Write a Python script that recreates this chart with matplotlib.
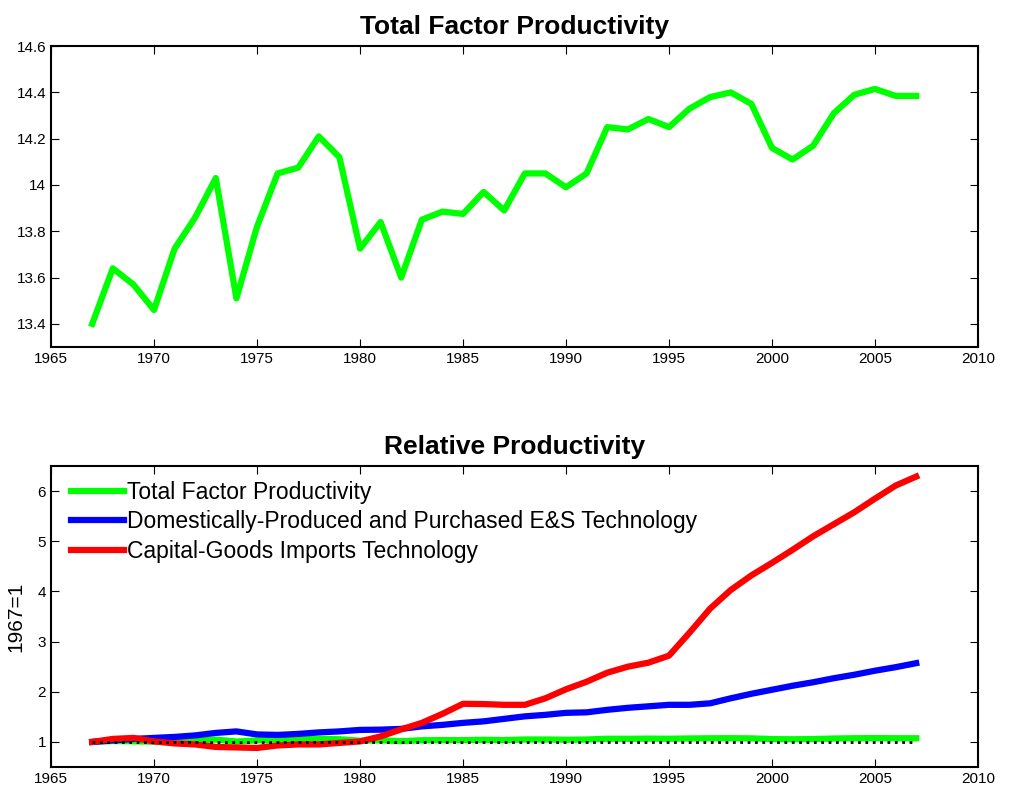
import numpy as np
import matplotlib
matplotlib.use('Agg')
import matplotlib.pyplot as plt
from matplotlib.ticker import FormatStrFormatter

plt.rcParams['font.family'] = ['Liberation Sans', 'DejaVu Sans']

years = np.arange(1967, 2008)

# TFP level (upper panel)
tfp = [13.40, 13.64, 13.57, 13.46, 13.725, 13.86, 14.03, 13.51, 13.82, 14.05,
       14.075, 14.21, 14.12, 13.725, 13.84, 13.60, 13.85, 13.885, 13.875, 13.97,
       13.89, 14.05, 14.05, 13.99, 14.05, 14.25, 14.24, 14.285, 14.25, 14.33,
       14.38, 14.40, 14.35, 14.16, 14.11, 14.17, 14.31, 14.39, 14.415, 14.385,
       14.385]

# relative series (lower panel), 1967=1
es_tech = [1.00, 1.03, 1.06, 1.08, 1.10, 1.13, 1.18, 1.21, 1.15, 1.14,
           1.16, 1.19, 1.21, 1.24, 1.245, 1.26, 1.31, 1.34, 1.38, 1.41,
           1.46, 1.51, 1.54, 1.58, 1.59, 1.64, 1.68, 1.71, 1.74, 1.74,
           1.77, 1.87, 1.96, 2.04, 2.12, 2.19, 2.27, 2.34, 2.42, 2.49,
           2.57]
imp_tech = [1.00, 1.06, 1.08, 1.01, 0.97, 0.95, 0.90, 0.89, 0.88, 0.93,
            0.95, 0.95, 0.98, 1.01, 1.11, 1.25, 1.38, 1.56, 1.76, 1.755,
            1.74, 1.74, 1.87, 2.05, 2.20, 2.38, 2.50, 2.58, 2.72, 3.18,
            3.66, 4.03, 4.32, 4.57, 4.83, 5.10, 5.34, 5.58, 5.85, 6.11,
            6.29]

tfp = np.array(tfp)
tfp_rel = tfp / tfp[0]
base = np.ones(len(years))

fig = plt.figure(figsize=(10.14, 7.95), dpi=100)
ax1 = fig.add_axes([0.0503, 0.5635, 0.9142, 0.3785])
ax2 = fig.add_axes([0.0503, 0.0352, 0.9142, 0.3786])

# верхний график
ax1.plot(years, tfp, color='#00ff00', linewidth=4.5)
ax1.set_xlim(1965, 2010)
ax1.set_ylim(13.3, 14.6)
ax1.set_yticks(np.arange(13.4, 14.61, 0.2))
ax1.yaxis.set_major_formatter(FormatStrFormatter('%g'))
ax1.set_title('Total Factor Productivity', fontsize=19, fontweight='bold', pad=9)

# нижний график
ax2.plot(years, tfp_rel, color='#00ff00', linewidth=4.5, label='Total Factor Productivity')
ax2.plot(years, es_tech, color='#0000ff', linewidth=4.5,
         label='Domestically-Produced and Purchased E&S Technology')
ax2.plot(years, imp_tech, color='#ff0000', linewidth=4.5,
         label='Capital-Goods Imports Technology')
ax2.plot(years, base, color='black', linestyle=':', linewidth=2)
ax2.set_xlim(1965, 2010)
ax2.set_ylim(0.5, 6.5)
ax2.set_yticks([1, 2, 3, 4, 5, 6])
ax2.set_ylabel('1967=1', fontsize=15, labelpad=9)
ax2.set_title('Relative Productivity', fontsize=19, fontweight='bold', pad=9)
ax2.legend(loc='upper left', frameon=False, fontsize=16.5, handlelength=2.3,
           handletextpad=0.12, labelspacing=0.27, borderaxespad=0.0,
           bbox_to_anchor=(0.012, 0.98))

for ax in (ax1, ax2):
    ax.set_xticks(np.arange(1965, 2011, 5))
    ax.tick_params(direction='in', top=True, right=True, labelsize=11, length=6)
    for s in ax.spines.values():
        s.set_linewidth(1.5)

fig.savefig('out.png', dpi=100)
